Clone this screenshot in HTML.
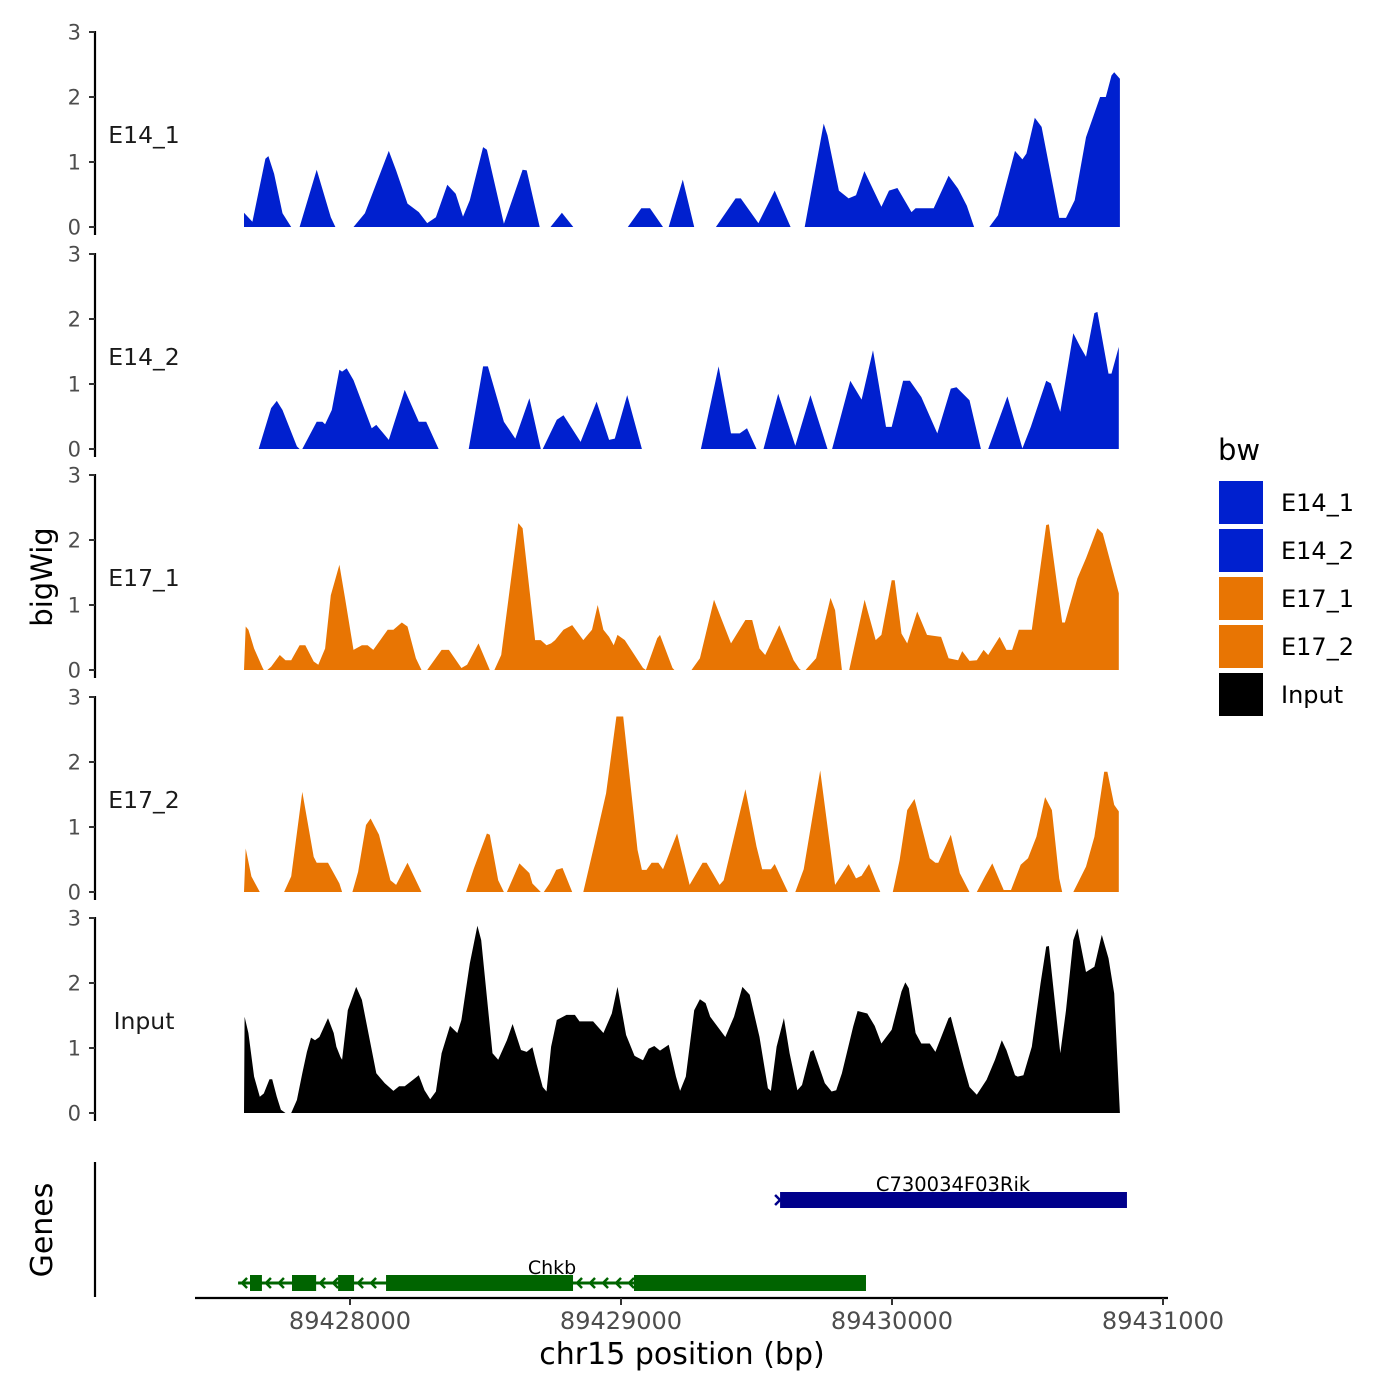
<!DOCTYPE html>
<html><head><meta charset="utf-8"><style>
body{margin:0;background:#fff;}
svg{display:block;font-family:"DejaVu Sans","Liberation Sans",sans-serif;}
</style></head><body>
<svg id="chart" width="1400" height="1400" viewBox="0 0 1400 1400" xmlns="http://www.w3.org/2000/svg">
<g id="tracks"></g>
<g id="axes"></g>
<g id="genes"></g>
<text x="52" y="577" transform="rotate(-90 52 577)" text-anchor="middle" font-size="29" fill="#000">bigWig</text>
<text x="52" y="1230" transform="rotate(-90 52 1230)" text-anchor="middle" font-size="30" fill="#000">Genes</text>
<text x="682" y="1364" text-anchor="middle" font-size="30" fill="#000">chr15 position (bp)</text>
<g id="legend">
<text x="1218" y="460" font-size="29" fill="#000">bw</text>
</g>
</svg>
<script>
const regionStart = 89427609;
const trackNames = ["E14_1","E14_2","E17_1","E17_2","Input"];
const trackColors = ["#0020CF","#0020CF","#E87503","#E87503","#000000"];
const yTicks = [0,1,2,3];
const xTicks = [89428000,89429000,89430000,89431000];
const xTickLabels = ["89428000","89429000","89430000","89431000"];

const e14_1_pos = [0,31,79,90,111,142,174,205,268,320,337,404,446,534,561,603,645,676,708,750,781,808,833,882,896,959,1028,1043,1091,1131,1173,1215,1416,1466,1498,1546,1567,1619,1661,1741,1814,1833,1898,1958,2017,2069,2139,2153,2195,2231,2258,2289,2352,2380,2411,2463,2478,2545,2600,2635,2667,2694,2750,2782,2845,2872,2887,2918,2943,3008,3033,3065,3107,3159,3180,3201,3211,3232];
const e14_1_val = [0.22,0.08,1.05,1.09,0.82,0.21,0,0,0.88,0.15,0,0,0.21,1.17,0.87,0.36,0.23,0.06,0.15,0.65,0.51,0.16,0.41,1.23,1.19,0.05,0.88,0.87,0,0,0.22,0,0,0.29,0.29,0,0,0.73,0,0,0.44,0.44,0.06,0.56,0,0,1.59,1.41,0.56,0.44,0.49,0.86,0.31,0.56,0.60,0.23,0.29,0.29,0.79,0.59,0.33,0,0,0.18,1.17,1.04,1.13,1.68,1.54,0.14,0.14,0.41,1.38,2.0,2.0,2.33,2.38,2.28];

const e14_2_pos = [54,100,121,142,195,205,215,268,289,299,324,352,362,379,404,471,488,534,593,645,672,718,829,882,900,959,1001,1053,1095,1102,1154,1179,1242,1301,1347,1368,1414,1468,1686,1751,1797,1829,1856,1891,1917,1971,2034,2090,2153,2170,2237,2279,2321,2369,2390,2432,2457,2499,2558,2608,2629,2677,2719,2746,2817,2872,2903,2960,2977,3012,3060,3086,3107,3138,3149,3190,3201,3228];
const e14_2_val = [0,0.63,0.74,0.60,0.04,0,0,0.42,0.42,0.38,0.60,1.22,1.19,1.24,1.06,0.32,0.37,0.14,0.91,0.42,0.42,0,0,1.27,1.27,0.42,0.16,0.78,0,0,0.45,0.52,0.11,0.73,0.14,0.16,0.83,0,0,1.27,0.24,0.24,0.32,0,0,0.85,0.05,0.83,0,0,1.05,0.76,1.52,0.34,0.34,1.05,1.05,0.80,0.24,0.93,0.95,0.75,0,0,0.81,0.01,0.34,1.05,1.01,0.57,1.78,1.57,1.42,2.09,2.11,1.16,1.16,1.57];

const e17_1_pos = [0,6,16,37,69,73,86,100,132,153,174,205,226,257,274,299,320,352,373,404,435,456,477,530,551,582,603,634,655,676,729,756,802,823,865,907,924,949,1012,1028,1074,1095,1116,1133,1148,1179,1211,1252,1284,1305,1326,1347,1364,1378,1405,1472,1483,1525,1535,1581,1588,1651,1682,1734,1766,1797,1850,1875,1902,1923,1975,2028,2049,2055,2072,2111,2164,2181,2206,2233,2290,2331,2352,2390,2401,2426,2447,2484,2520,2572,2600,2635,2650,2677,2704,2729,2746,2788,2813,2834,2859,2907,2960,2970,3019,3029,3075,3107,3149,3169,3228];
const e17_1_val = [0,0.67,0.62,0.33,0.03,0,0,0.05,0.23,0.15,0.15,0.38,0.38,0.13,0.08,0.33,1.15,1.62,1.10,0.31,0.38,0.38,0.31,0.62,0.62,0.73,0.67,0.18,0,0,0.31,0.31,0.03,0.08,0.41,0,0,0.23,2.26,2.18,0.46,0.46,0.38,0.41,0.46,0.62,0.69,0.46,0.62,1.0,0.62,0.51,0.38,0.54,0.46,0.03,0,0.49,0.54,0.03,0,0,0.18,1.08,0.74,0.41,0.77,0.77,0.33,0.23,0.69,0.15,0.02,0,0,0.18,1.11,0.92,0,0,1.08,0.46,0.54,1.38,1.38,0.56,0.41,0.90,0.54,0.51,0.18,0.15,0.29,0.14,0.15,0.31,0.23,0.51,0.31,0.31,0.62,0.62,2.23,2.24,0.73,0.73,1.41,1.72,2.18,2.10,1.18];

const e17_2_pos = [0,6,27,58,148,174,215,257,268,310,352,362,400,421,450,467,498,540,561,603,655,819,848,896,907,938,959,970,1016,1053,1064,1095,1106,1127,1152,1175,1211,1252,1294,1336,1374,1399,1452,1468,1485,1504,1529,1546,1598,1644,1692,1707,1755,1770,1850,1891,1912,1944,1958,2007,2034,2065,2126,2181,2231,2258,2279,2306,2348,2394,2419,2447,2474,2530,2551,2562,2608,2641,2677,2704,2734,2761,2803,2830,2866,2893,2924,2956,2981,3008,3019,3060,3107,3138,3174,3186,3211,3228];
const e17_2_val = [0,0.67,0.24,0,0,0.24,1.54,0.54,0.45,0.45,0.13,0,0,0.31,1.03,1.13,0.88,0.18,0.11,0.45,0,0,0.36,0.90,0.88,0.18,0,0,0.44,0.29,0.13,0,0,0.13,0.34,0.37,0,0,0.75,1.52,2.70,2.70,0.65,0.34,0.34,0.45,0.45,0.35,0.90,0.11,0.45,0.45,0.11,0.18,1.58,0.70,0.35,0.35,0.43,0,0,0.35,1.87,0.11,0.43,0.21,0.25,0.43,0,0,0.49,1.26,1.43,0.52,0.45,0.45,0.88,0.29,0,0,0.24,0.44,0.03,0.03,0.42,0.52,0.85,1.46,1.26,0.21,0,0,0.39,0.85,1.85,1.85,1.34,1.24];

const input_pos = [0,2,16,37,58,73,94,104,121,136,153,174,195,215,232,247,262,278,310,331,341,356,362,383,414,435,488,519,551,572,593,624,645,666,687,708,729,760,787,802,833,861,875,917,938,970,991,1022,1043,1064,1079,1102,1116,1133,1154,1190,1221,1238,1288,1326,1357,1378,1410,1441,1472,1493,1514,1535,1567,1594,1609,1630,1661,1682,1703,1720,1776,1808,1839,1866,1902,1933,1944,1965,1992,2013,2042,2059,2090,2101,2143,2168,2185,2206,2248,2264,2300,2327,2352,2390,2426,2440,2453,2478,2499,2530,2551,2600,2608,2656,2677,2704,2740,2771,2796,2813,2845,2855,2876,2907,2939,2960,2970,3012,3033,3060,3075,3107,3138,3165,3190,3211,3232];
const input_val = [0,1.48,1.23,0.56,0.25,0.30,0.52,0.52,0.25,0.05,0,0,0.20,0.61,0.94,1.16,1.12,1.17,1.46,1.23,1.02,0.86,0.82,1.58,1.94,1.74,0.61,0.46,0.34,0.41,0.41,0.51,0.58,0.35,0.21,0.33,0.92,1.34,1.23,1.43,2.30,2.88,2.66,0.92,0.82,1.12,1.37,0.97,0.94,1.01,0.76,0.40,0.33,1.02,1.43,1.51,1.51,1.41,1.41,1.23,1.53,1.94,1.20,0.88,0.81,0.99,1.03,0.96,1.05,0.56,0.34,0.56,1.58,1.75,1.69,1.48,1.17,1.48,1.94,1.82,1.17,0.38,0.34,1.02,1.46,0.92,0.35,0.43,0.94,0.97,0.46,0.33,0.35,0.61,1.33,1.57,1.53,1.34,1.07,1.28,1.87,2.01,1.92,1.23,1.07,1.07,0.94,1.46,1.48,0.71,0.40,0.28,0.51,0.82,1.12,0.97,0.58,0.56,0.58,1.02,1.99,2.56,2.57,0.92,1.58,2.66,2.84,2.17,2.25,2.74,2.38,1.84,0];

const trackPos = [e14_1_pos,e14_2_pos,e17_1_pos,e17_2_pos,input_pos];
const trackVal = [e14_1_val,e14_2_val,e17_1_val,e17_2_val,input_val];

const geneNames = ["Chkb","C730034F03Rik"];
const geneStarts = [89427587,89429587];
const geneEnds = [89429904,89430867];
const geneColors = ["#006400","#00008B"];
const chkbExonStarts = [89427631,89427786,89427956,89428133,89429048];
const chkbExonEnds = [89427675,89427875,89428015,89428823,89429904];

const NS = "http://www.w3.org/2000/svg";
function mk(tag, attrs, parent){const e=document.createElementNS(NS,tag);for(const k in attrs)e.setAttribute(k,attrs[k]);parent.appendChild(e);return e;}
function xScale(bp){return 350 + (bp-89428000)*0.271;}
const baselines = [227,449,670,892,1113];
function yScale(t,v){return baselines[t] - v*65;}

const tracksG = document.getElementById('tracks');
const axesG = document.getElementById('axes');
trackNames.forEach((name,t)=>{
  const pos = trackPos[t], val = trackVal[t];
  let d = "M"+xScale(regionStart+pos[0]).toFixed(1)+","+baselines[t];
  for(let i=0;i<pos.length;i++){
    d += " L"+xScale(regionStart+pos[i]).toFixed(1)+","+yScale(t,val[i]).toFixed(1);
  }
  d += " L"+xScale(regionStart+pos[pos.length-1]).toFixed(1)+","+baselines[t]+" Z";
  const p = mk('path',{d:d,fill:trackColors[t],stroke:'none'},tracksG);
  
  
  const lbl = mk('text',{x:144,y:baselines[t]-92+8,'text-anchor':'middle','font-size':23.5,fill:'#1a1a1a'},tracksG);
  lbl.textContent = name;
  
  
  const ax = mk('line',{x1:95,x2:95,y1:yScale(t,3)-1,y2:baselines[t]+8,stroke:'#000','stroke-width':2.2},axesG);
  
  
  yTicks.forEach(v=>{
    const y = yScale(t,v);
    const tk = mk('line',{x1:89,x2:95,y1:y,y2:y,stroke:'#333','stroke-width':2},axesG);
    
    
    const tl = mk('text',{x:81,y:y+7.5,'text-anchor':'end','font-size':21,fill:'#4d4d4d'},axesG);
    tl.textContent = v;
    
    
  });
});

const genesG = document.getElementById('genes');
const gax = mk('line',{x1:95,x2:95,y1:1162,y2:1297,stroke:'#000','stroke-width':2.2},genesG);


const xax = mk('line',{x1:195,x2:1168,y1:1298,y2:1298,stroke:'#000','stroke-width':2.2},genesG);


xTicks.forEach((b,i)=>{
  const x = xScale(b);
  const tk = mk('line',{x1:x,x2:x,y1:1298,y2:1305,stroke:'#333','stroke-width':2},genesG);
  
  
  const tl = mk('text',{x:x,y:1329,'text-anchor':'middle','font-size':24,fill:'#4d4d4d'},genesG);
  tl.textContent = xTickLabels[i];
  
  
});
const gy = 1283;
const chkbLine = mk('line',{x1:xScale(geneStarts[0]),x2:xScale(geneEnds[0]),y1:gy,y2:gy,stroke:geneColors[0],'stroke-width':3},genesG);


chkbExonStarts.forEach((s,i)=>{
  const x1 = xScale(s), x2 = xScale(chkbExonEnds[i]);
  const r = mk('rect',{x:x1,y:gy-8,width:x2-x1,height:16,fill:geneColors[0]},genesG);
  
  
});
for(let i=0;i<chkbExonStarts.length;i++){
  const a = i===0 ? xScale(geneStarts[0]) : xScale(chkbExonEnds[i-1]);
  const b = xScale(chkbExonStarts[i]);
  for(let x=a+4;x<b-4;x+=13){
    const c = mk('path',{d:`M${x+5},${gy-5} L${x},${gy} L${x+5},${gy+5}`,stroke:geneColors[0],'stroke-width':2.5,fill:'none'},genesG);
    
    
  }
}
const chkbLbl = mk('text',{x:552,y:1274,'text-anchor':'middle','font-size':19,fill:'#000'},genesG);
chkbLbl.textContent = geneNames[0];


const ry = 1200;
const rx1 = xScale(geneStarts[1]), rx2 = xScale(geneEnds[1]);
const rr = mk('rect',{x:rx1,y:ry-8,width:rx2-rx1,height:16,fill:geneColors[1]},genesG);


const rc = mk('path',{d:`M${rx1-5},${ry-5} L${rx1},${ry} L${rx1-5},${ry+5}`,stroke:geneColors[1],'stroke-width':2.5,fill:'none'},genesG);


const rLbl = mk('text',{x:953,y:1191,'text-anchor':'middle','font-size':19.5,fill:'#000'},genesG);
rLbl.textContent = geneNames[1];



const legG = document.getElementById('legend');
trackNames.forEach((name,i)=>{
  const y = 481 + i*48;
  const r = mk('rect',{x:1219,y:y,width:44,height:43,fill:trackColors[i]},legG);
  
  
  const t = mk('text',{x:1281,y:y+30,'font-size':24,fill:'#000'},legG);
  t.textContent = name;
  
  
});
</script>
</body></html>
